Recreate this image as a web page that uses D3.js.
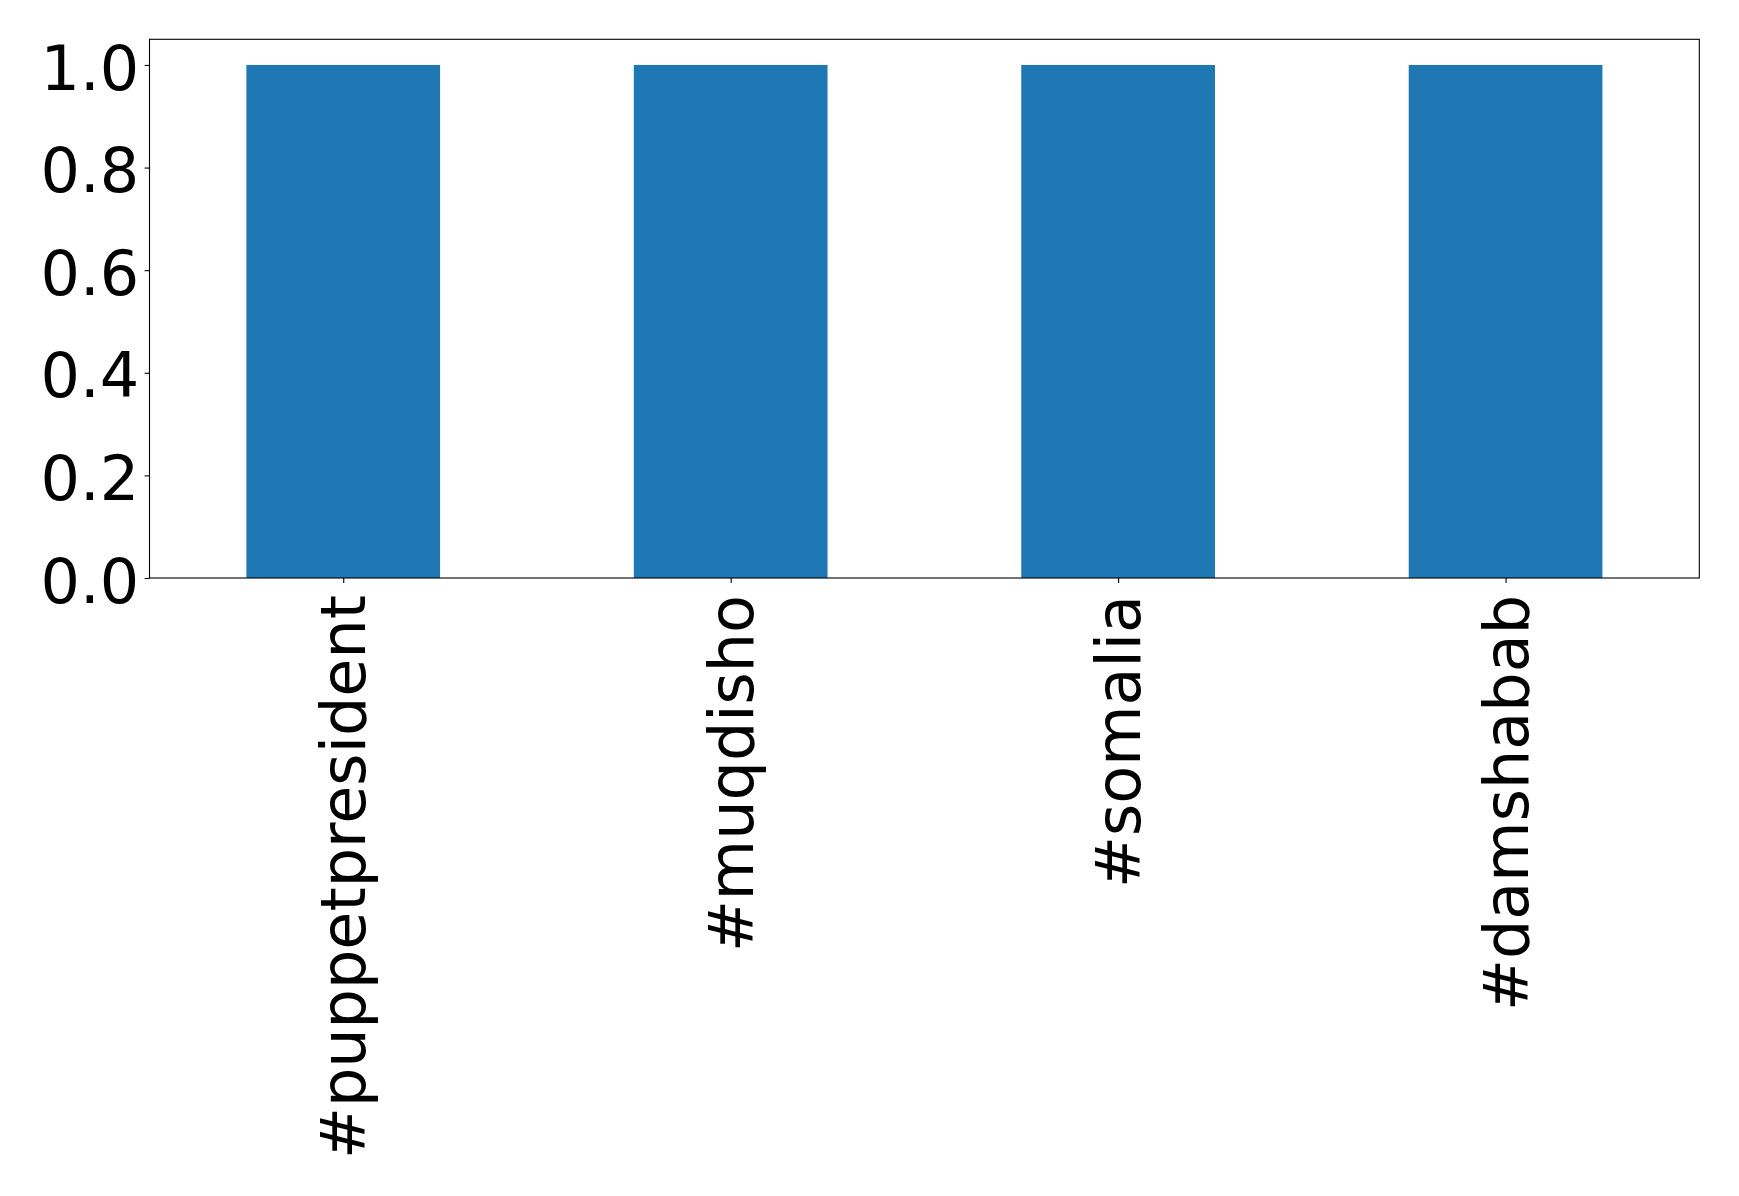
<!DOCTYPE html>
<html>
<head>
<meta charset="utf-8">
<script src="https://cdn.jsdelivr.net/npm/d3@7"></script>
<style>
html, body { margin: 0; padding: 0; background: #fff; }
text { font-family: "DejaVu Sans", sans-serif; }
</style>
</head>
<body>
<svg id="chart" width="1739" height="1196"></svg>
<script>
const categories = ["#puppetpresident", "#muqdisho", "#somalia", "#damshabab"];
const values = [1, 1, 1, 1];
const yTicks = [0.0, 0.2, 0.4, 0.6, 0.8, 1.0];

const W = 1739, H = 1196;
const margin = {left: 149.5, right: W - 1699.3, top: 39.3, bottom: H - 578};
const svg = d3.select("#chart");
const pw = W - margin.left - margin.right;
const ph = H - margin.top - margin.bottom;
const g = svg.append("g").attr("transform", `translate(${margin.left},${margin.top})`);

const x = d3.scaleLinear().domain([-0.5, categories.length - 0.5]).range([0, pw]);
const y = d3.scaleLinear().domain([0, 1.05]).range([ph, 0]);
const barW = 0.5;

g.selectAll("rect.bar").data(values).enter().append("rect")
  .attr("class", "bar")
  .attr("x", (d, i) => x(i - barW / 2))
  .attr("width", (d, i) => x(i + barW / 2) - x(i - barW / 2))
  .attr("y", d => y(d))
  .attr("height", d => y(0) - y(d))
  .attr("fill", "#1f77b4");

// frame
g.append("rect").attr("x", 0).attr("y", 0).attr("width", pw).attr("height", ph)
  .attr("fill", "none").attr("stroke", "#000").attr("stroke-width", 1.1);

const fs = 62;
// y axis
const yAxis = d3.axisLeft(y).tickValues(yTicks).tickFormat(d3.format(".1f")).tickSize(4.9).tickPadding(5.5);
const ya = g.append("g").call(yAxis);
ya.select(".domain").remove();
ya.selectAll(".tick line").attr("stroke", "#000").attr("stroke-width", 1.1);
ya.selectAll(".tick text").attr("font-size", fs).attr("fill", "#000")
  .attr("font-family", "DejaVu Sans").attr("dy", "0.39em");

// x axis
const xAxis = d3.axisBottom(x).tickValues(d3.range(categories.length)).tickFormat(i => categories[i]).tickSize(4.9).tickPadding(4.9);
const xa = g.append("g").attr("transform", `translate(0,${ph})`).call(xAxis);
xa.select(".domain").remove();
xa.selectAll(".tick line").attr("stroke", "#000").attr("stroke-width", 1.1);
xa.selectAll(".tick text").attr("font-size", fs).attr("fill", "#000")
  .attr("font-family", "DejaVu Sans")
  .attr("text-anchor", "end")
  .attr("transform", "translate(0,17) rotate(-90)")
  .attr("x", 0).attr("y", 0).attr("dy", "0.35em");
</script>
</body>
</html>
